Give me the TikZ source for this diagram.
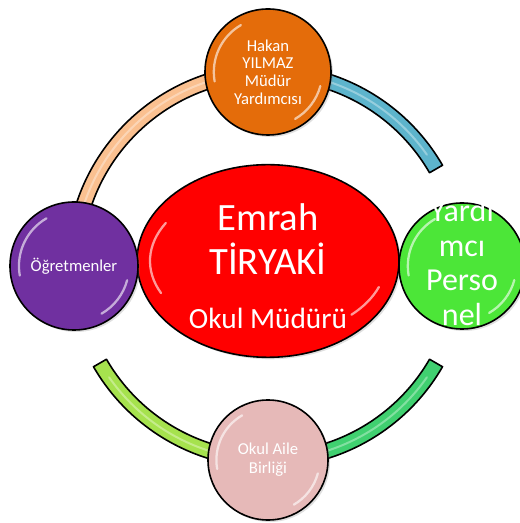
\documentclass[tikz,border=0pt]{standalone}
\usepackage{fontspec}
\setmainfont{Carlito}
\usetikzlibrary{shapes.geometric,shadows}

\definecolor{hakanorange}{RGB}{228,108,10}
\definecolor{ogretmenpurple}{RGB}{112,48,160}
\definecolor{mudurred}{RGB}{255,0,0}
\definecolor{yardimcigreen}{RGB}{76,230,56}
\definecolor{ailepink}{RGB}{230,185,184}
\definecolor{bandorange}{RGB}{250,192,144}
\definecolor{bandblue}{RGB}{93,180,204}
\definecolor{bandlime}{RGB}{166,226,78}
\definecolor{bandsea}{RGB}{64,208,112}

\tikzset{
  rim/.style={draw=black, line width=1.2pt},
  ball/.style={circle, rim, text=white, align=center, inner sep=0pt,
    drop shadow={opacity=0.25, shadow xshift=1.5pt, shadow yshift=-1.5pt}},
  band/.style={rim, line join=round},
  gloss/.style={white, line width=1.7pt, opacity=0.6, line cap=round},
  shine/.style={white, line width=1.5pt, opacity=0.35, line cap=round},
}

\begin{document}
\begin{tikzpicture}[x=0.75pt,y=0.75pt]
  \pgfmathsetmacro{\R}{194}      % ring radius
  \pgfmathsetmacro{\ro}{\R+7.5}  % outer edge of band
  \pgfmathsetmacro{\ri}{\R-7.5}  % inner edge of band
  \useasboundingbox (-268,-257) rectangle (251,266);
  % bands of the ring
  \draw[band,fill=bandorange] (90:\ro) arc[start angle=90,end angle=180,radius=\ro]
    -- (180:\ri) arc[start angle=180,end angle=90,radius=\ri] -- cycle;
  \draw[band,fill=bandblue] (30:\ro) arc[start angle=30,end angle=90,radius=\ro]
    -- (90:\ri) arc[start angle=90,end angle=30,radius=\ri] -- cycle;
  \draw[band,fill=bandlime] (210:\ro) arc[start angle=210,end angle=270,radius=\ro]
    -- (270:\ri) arc[start angle=270,end angle=210,radius=\ri] -- cycle;
  \draw[band,fill=bandsea] (270:\ro) arc[start angle=270,end angle=330,radius=\ro]
    -- (330:\ri) arc[start angle=330,end angle=270,radius=\ri] -- cycle;
  % shine along the bands
  \draw[shine] (105:\R) arc[start angle=105,end angle=165,radius=\R];
  \draw[shine] (35:\R) arc[start angle=35,end angle=75,radius=\R];
  \draw[shine] (215:\R) arc[start angle=215,end angle=255,radius=\R];
  \draw[shine] (285:\R) arc[start angle=285,end angle=325,radius=\R];
  % principal
  \node[ellipse, rim, fill=mudurred, text=white, align=center, inner sep=0pt,
    minimum width=196.5pt, minimum height=129pt, font=\fontsize{29}{33.5}\selectfont,
    drop shadow={opacity=0.25, shadow xshift=1.5pt, shadow yshift=-1.5pt}] (mudur) at (0,5)
    {\rule{0pt}{28pt}Emrah\\TİRYAKİ\\[7pt]{\fontsize{22}{33.5}\selectfont Okul Müdürü}};
  \draw[gloss] ([shift={(150:118 and 76)}]mudur.center) arc[start angle=150,end angle=205,x radius=118,y radius=76];
  \draw[gloss] ([shift={(-20:118 and 76)}]mudur.center) arc[start angle=-20,end angle=-45,x radius=118,y radius=76];
  % the four around it
  \node[ball, fill=hakanorange, minimum size=94.5pt,
    font=\fontsize{12.5}{13.3}\selectfont] (hakan) at (90:\R) {Hakan\\YILMAZ\\Müdür\\Yardımcısı};
  \node[ball, fill=ogretmenpurple, minimum size=96pt,
    font=\fontsize{12.5}{14}\selectfont] (ogretmen) at (180:\R) {Öğretmenler};
  \node[ball, fill=yardimcigreen, minimum size=94.5pt] (yardimci) at (0:\R)
    {\smash{\parbox[c]{70pt}{\centering\fontsize{24}{26}\selectfont Yardı\\mcı\\Perso\\nel}}};
  \node[ball, fill=ailepink, minimum size=90pt,
    font=\fontsize{12.5}{14.3}\selectfont] (aile) at (270:\R) {Okul Aile\\Birliği};
  % gloss on the balls
  \foreach \n/\r in {hakan/63,ogretmen/64,yardimci/63,aile/60}{
    \draw[gloss] ([shift={(120:{0.86*\r})}]\n.center) arc[start angle=120,end angle=190,radius={0.86*\r}];
    \draw[gloss] ([shift={(-15:{0.86*\r})}]\n.center) arc[start angle=-15,end angle=-60,radius={0.86*\r}];
  }
\end{tikzpicture}
\end{document}
